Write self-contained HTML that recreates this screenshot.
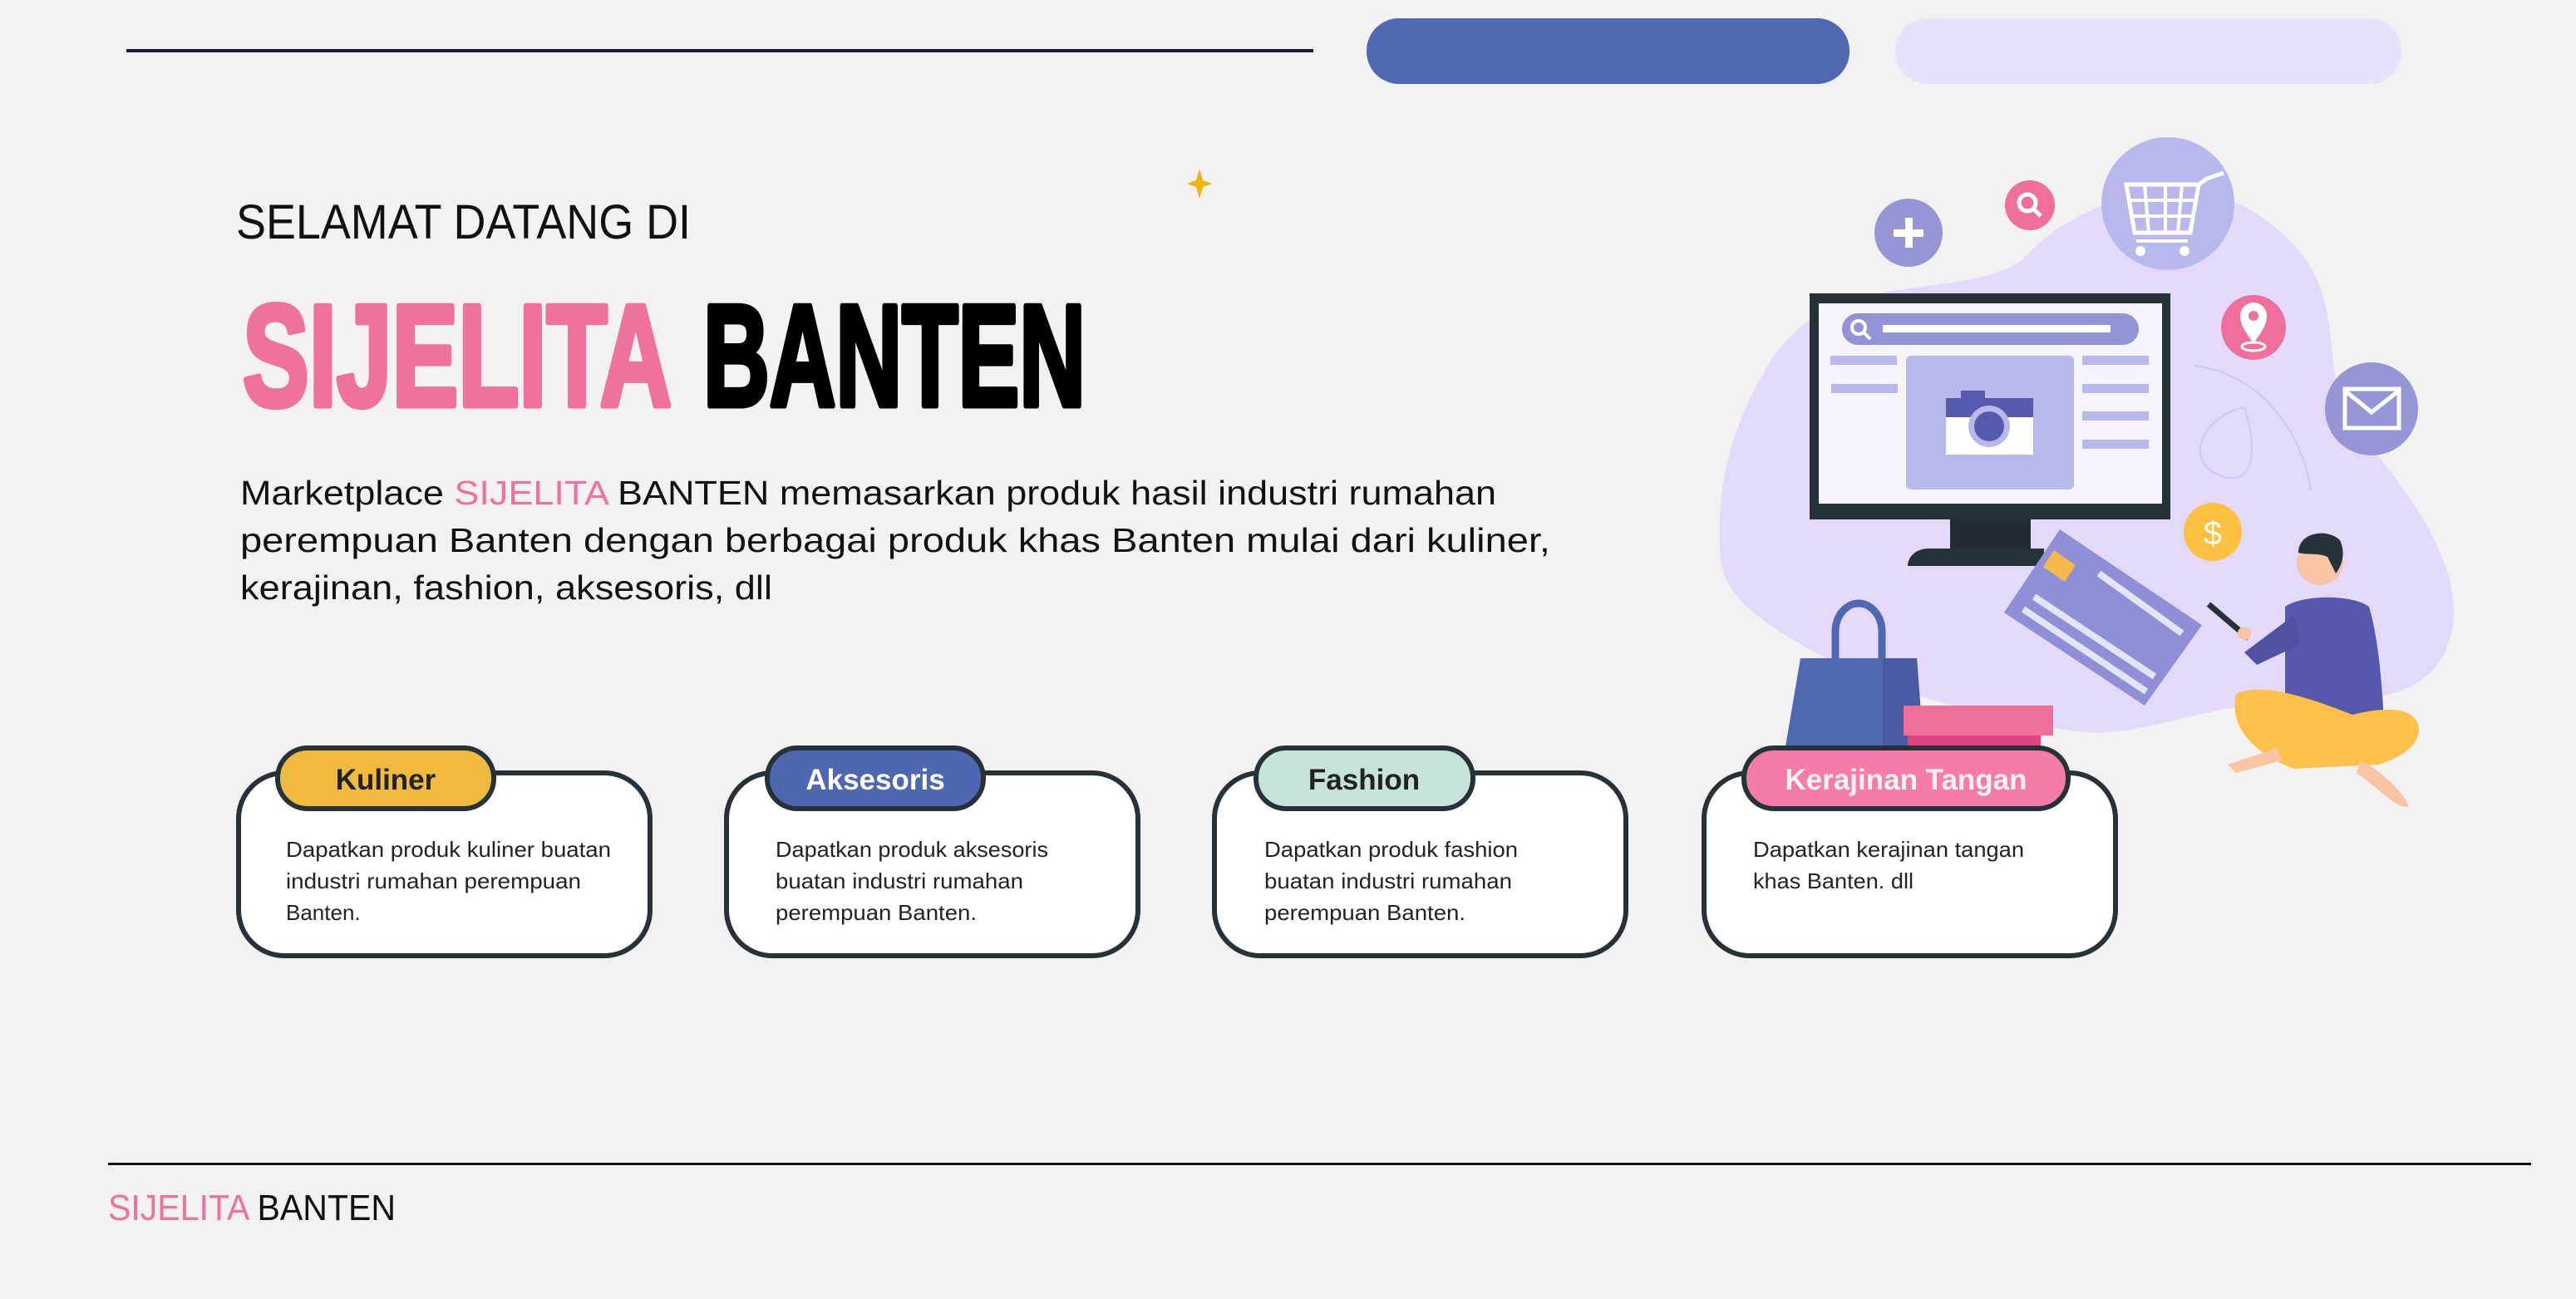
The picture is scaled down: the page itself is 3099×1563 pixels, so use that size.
<!DOCTYPE html>
<html><head><meta charset="utf-8"><style>
html,body{margin:0;padding:0;background:#F3F1F2;}
svg{display:block;}
text{font-family:"Liberation Sans",sans-serif;}
</style></head><body>
<svg width="3099" height="1563" viewBox="0 0 3099 1563" xmlns="http://www.w3.org/2000/svg">
<rect width="3099" height="1563" fill="#F3F1F2"/>
<!-- top decorations -->
<rect x="152" y="59" width="1428" height="4" fill="#1E1E3C"/>
<rect x="1644" y="22" width="581" height="79" rx="39" fill="#5068B2"/>
<rect x="2280" y="22" width="609" height="79" rx="39" fill="#E6E2FB"/>
<!-- star -->
<path d="M1443,203 L1447,217 L1458,221 L1447,225 L1443,239 L1439,225 L1428,221 L1439,217 Z" fill="#F2B50F"/>
<!-- heading -->
<text x="284" y="287" font-size="58" fill="#111" textLength="547" lengthAdjust="spacingAndGlyphs">SELAMAT DATANG DI</text>
<text x="292" y="488" font-size="174" font-weight="bold" fill="#EE719E" stroke="#EE719E" stroke-width="7" stroke-linejoin="round" textLength="516" lengthAdjust="spacingAndGlyphs">SIJELITA</text>
<text x="846" y="488" font-size="174" font-weight="bold" fill="#000" stroke="#000" stroke-width="7" stroke-linejoin="round" textLength="460" lengthAdjust="spacingAndGlyphs">BANTEN</text>
<!-- paragraph -->
<text x="289" y="607" font-size="41" fill="#111" textLength="1511" lengthAdjust="spacingAndGlyphs">Marketplace <tspan fill="#EE719E">SIJELITA</tspan> BANTEN memasarkan produk hasil industri rumahan</text>
<text x="289" y="664" font-size="41" fill="#111" textLength="1576" lengthAdjust="spacingAndGlyphs">perempuan Banten dengan berbagai produk khas Banten mulai dari kuliner,</text>
<text x="289" y="721" font-size="41" fill="#111" textLength="640" lengthAdjust="spacingAndGlyphs">kerajinan, fashion, aksesoris, dll</text>

<!-- illustration blob -->
<path d="M2434,312 C2480,260 2550,232 2606,232 C2650,232 2680,240 2702,249 C2760,285 2790,320 2800,380 C2810,430 2800,467 2840,520 C2880,575 2920,617 2945,690 C2965,760 2940,810 2893,829 C2840,850 2790,846 2733,846 C2650,850 2580,885 2510,881 C2400,870 2270,830 2191,789 C2120,750 2076,720 2070,674 C2065,600 2075,540 2110,470 C2140,410 2170,380 2230,360 C2300,340 2390,345 2434,312 Z" fill="#E4D9FB"/>
<path d="M2640,440 C2720,450 2770,520 2780,590" stroke="#D2C6EE" stroke-width="2" fill="none"/>
<path d="M2700,490 C2650,500 2620,560 2680,575 C2720,580 2710,520 2700,490" stroke="#D2C6EE" stroke-width="2" fill="none"/>
<!-- circles -->
<circle cx="2296" cy="280" r="41" fill="#9696D6"/>
<rect x="2292" y="262" width="9" height="36" fill="#fff"/><rect x="2278" y="276" width="36" height="9" fill="#fff"/>
<circle cx="2442" cy="247" r="30" fill="#EE6E9C"/>
<circle cx="2439" cy="244" r="10" fill="none" stroke="#fff" stroke-width="5"/><line x1="2446" y1="251" x2="2455" y2="260" stroke="#fff" stroke-width="5"/>
<circle cx="2608" cy="245" r="80" fill="#B8B8EC"/>
<path d="M2558,222 L2645,222 L2635,280 L2568,280 Z M2645,222 L2655,215 L2675,208" fill="none" stroke="#fff" stroke-width="5"/>
<path d="M2580,222 L2585,280 M2605,222 L2605,280 M2625,222 L2620,280 M2562,241 L2640,241 M2565,260 L2637,260 M2570,290 L2632,290" stroke="#fff" stroke-width="4"/>
<circle cx="2575" cy="302" r="6" fill="#fff"/><circle cx="2628" cy="302" r="6" fill="#fff"/>
<circle cx="2711" cy="394" r="39" fill="#EE6E9C"/>
<path d="M2711,413 C2700,398 2695,390 2695,380 A16,16 0 1 1 2727,380 C2727,390 2722,398 2711,413 Z" fill="#fff"/><circle cx="2711" cy="380" r="6" fill="#EE6E9C"/>
<ellipse cx="2711" cy="417" rx="14" ry="5" fill="none" stroke="#fff" stroke-width="3"/>
<circle cx="2853" cy="492" r="56" fill="#9696D6"/>
<rect x="2821" y="468" width="65" height="47" fill="none" stroke="#fff" stroke-width="5"/><path d="M2821,470 L2853,496 L2886,470" fill="none" stroke="#fff" stroke-width="5"/>
<circle cx="2662" cy="640" r="35" fill="#FDC040"/>
<text x="2662" y="655" font-size="40" fill="#fff" text-anchor="middle">$</text>
<!-- monitor -->
<rect x="2177" y="353" width="434" height="272" fill="#263238"/>
<rect x="2188" y="365" width="413" height="241" fill="#F5F3FC"/>
<rect x="2346" y="625" width="97" height="36" fill="#222A32"/>
<path d="M2320,660 L2459,660 L2459,681 L2295,681 C2295,670 2305,660 2320,660 Z" fill="#263238"/>
<rect x="2216" y="377" width="357" height="38" rx="19" fill="#9393D8"/>
<rect x="2265" y="391" width="274" height="9" fill="#fff"/>
<circle cx="2236" cy="394" r="8" fill="none" stroke="#fff" stroke-width="4"/><line x1="2242" y1="400" x2="2250" y2="408" stroke="#fff" stroke-width="4"/>
<rect x="2293" y="428" width="202" height="161" rx="6" fill="#B8B8EC"/>
<rect x="2341" y="479" width="105" height="68" fill="#fff"/>
<rect x="2341" y="479" width="105" height="23" fill="#575BAE"/>
<rect x="2359" y="470" width="29" height="10" fill="#575BAE"/>
<circle cx="2393" cy="513" r="25" fill="#B8B8EC"/><circle cx="2393" cy="513" r="18" fill="#575BAE"/>
<rect x="2202" y="428" width="80" height="11" fill="#B8B8EC"/><rect x="2203" y="462" width="80" height="11" fill="#B8B8EC"/>
<rect x="2505" y="428" width="80" height="11" fill="#B8B8EC"/><rect x="2505" y="462" width="80" height="11" fill="#B8B8EC"/>
<rect x="2505" y="495" width="80" height="11" fill="#B8B8EC"/><rect x="2505" y="529" width="80" height="11" fill="#B8B8EC"/>
<!-- credit card -->
<polygon points="2478,637 2649,752 2580,849 2411,737" fill="#8F8FD8"/>
<polygon points="2471,662 2497,680 2484,700 2458,682" fill="#F5B84A"/>
<line x1="2525" y1="690" x2="2625" y2="762" stroke="#E4E4F8" stroke-width="8"/>
<line x1="2447" y1="718" x2="2592" y2="814" stroke="#E4E4F8" stroke-width="8"/>
<line x1="2434" y1="733" x2="2582" y2="832" stroke="#E4E4F8" stroke-width="8"/>
<!-- bag and box -->
<path d="M2208,792 L2208,760 A28,34 0 0 1 2264,760 L2264,792" fill="none" stroke="#5068B2" stroke-width="9"/>
<polygon points="2166,792 2306,792 2314,898 2148,898" fill="#5068B2"/>
<polygon points="2265,792 2306,792 2314,898 2265,898" fill="#4A5BA6"/>
<rect x="2290" y="849" width="180" height="36" fill="#EE6E9C"/>
<rect x="2295" y="885" width="160" height="13" fill="#E04480"/>
<!-- person -->
<path d="M2749,730 C2770,715 2830,715 2850,730 C2862,770 2866,830 2868,870 L2749,870 Z" fill="#5659AB"/>
<path d="M2760,740 L2700,785 L2715,800 L2768,775 Z" fill="#4F52A0"/>
<circle cx="2791" cy="676" r="28" fill="#F7C5A3"/>
<path d="M2765,665 C2765,640 2800,635 2815,650 C2822,665 2818,680 2810,690 L2800,670 C2790,665 2775,668 2765,665 Z" fill="#263238"/>
<line x1="2657" y1="727" x2="2705" y2="768" stroke="#263238" stroke-width="7"/>
<circle cx="2700" cy="762" r="8" fill="#F7C5A3"/>
<path d="M2690,835 C2720,820 2780,840 2830,860 C2870,850 2905,850 2910,875 C2912,900 2880,915 2860,920 L2760,925 C2720,910 2680,880 2690,835 Z" fill="#FDC04A"/>
<path d="M2680,920 L2740,900 L2745,915 L2690,930 Z" fill="#F7C5A3"/>
<path d="M2840,915 C2860,925 2890,950 2898,970 C2885,975 2870,955 2835,930 Z" fill="#F7C5A3"/>

<!-- cards -->
<g stroke="#263238" stroke-width="6">
<rect x="287" y="930" width="495" height="220" rx="55" fill="#fff"/>
<rect x="874" y="930" width="495" height="220" rx="55" fill="#fff"/>
<rect x="1461" y="930" width="495" height="220" rx="55" fill="#fff"/>
<rect x="2050" y="930" width="495" height="220" rx="55" fill="#fff"/>
<rect x="334" y="900" width="260" height="73" rx="36" fill="#F0BA40"/>
<rect x="923" y="900" width="260" height="73" rx="36" fill="#4F67B0"/>
<rect x="1511" y="900" width="261" height="73" rx="36" fill="#C5E3D8"/>
<rect x="2098" y="900" width="390" height="73" rx="36" fill="#F57BA8"/>
</g>
<g font-size="35" font-weight="bold" text-anchor="middle">
<text x="464" y="950" fill="#222">Kuliner</text>
<text x="1053" y="950" fill="#fff">Aksesoris</text>
<text x="1641" y="950" fill="#222">Fashion</text>
<text x="2293" y="950" fill="#FFF3EE">Kerajinan Tangan</text>
</g>
<g font-size="26" fill="#222">
<text x="344" y="1031" textLength="391" lengthAdjust="spacingAndGlyphs">Dapatkan produk kuliner buatan</text>
<text x="344" y="1069" textLength="355" lengthAdjust="spacingAndGlyphs">industri rumahan perempuan</text>
<text x="344" y="1107">Banten.</text>
<text x="933" y="1031" textLength="328" lengthAdjust="spacingAndGlyphs">Dapatkan produk aksesoris</text>
<text x="933" y="1069" textLength="298" lengthAdjust="spacingAndGlyphs">buatan industri rumahan</text>
<text x="933" y="1107" textLength="242" lengthAdjust="spacingAndGlyphs">perempuan Banten.</text>
<text x="1521" y="1031" textLength="305" lengthAdjust="spacingAndGlyphs">Dapatkan produk fashion</text>
<text x="1521" y="1069" textLength="298" lengthAdjust="spacingAndGlyphs">buatan industri rumahan</text>
<text x="1521" y="1107" textLength="242" lengthAdjust="spacingAndGlyphs">perempuan Banten.</text>
<text x="2109" y="1031" textLength="326" lengthAdjust="spacingAndGlyphs">Dapatkan kerajinan tangan</text>
<text x="2109" y="1069" textLength="193" lengthAdjust="spacingAndGlyphs">khas Banten. dll</text>
</g>

<!-- footer -->
<rect x="130" y="1399" width="2915" height="3" fill="#111"/>
<text x="130" y="1468" font-size="44" fill="#111" textLength="346" lengthAdjust="spacingAndGlyphs"><tspan fill="#EE719E">SIJELITA</tspan> BANTEN</text>
</svg>
</body></html>
